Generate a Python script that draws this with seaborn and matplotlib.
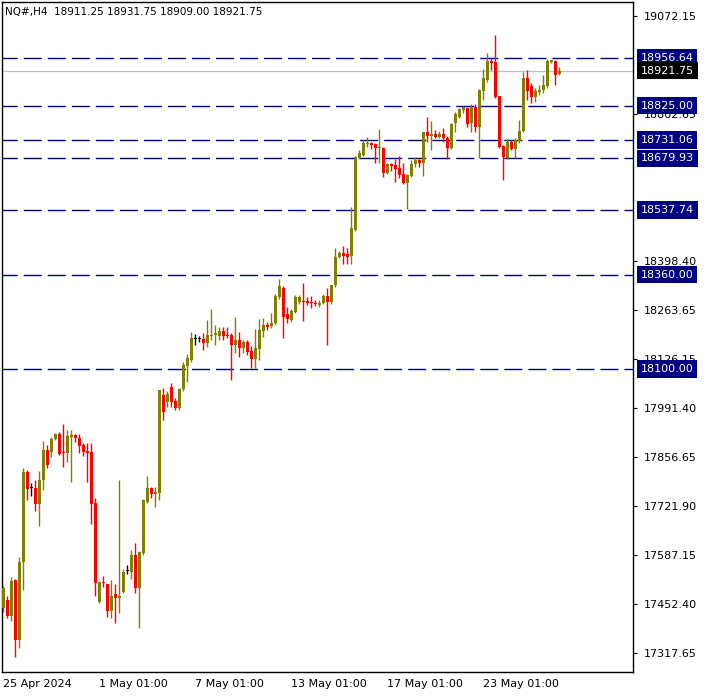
import numpy as np
import matplotlib
matplotlib.use("Agg")
import matplotlib.pyplot as plt
import matplotlib.transforms as mtransforms
import seaborn as sns

### data (NQ#, H4 candles) ###
opens = [17441.6, 17463.6, 17419.6, 17518.7, 17353.5, 17568.3, 17816.2, 17772.1, 17772.1, 17728.1,
         17794.1, 17876.8, 17871.3, 17907.1, 17920.9, 17871.3, 17868.5, 17912.6, 17918.1, 17909.8,
         17890.6, 17874.0, 17871.3, 17730.8, 17458.1, 17513.2, 17507.7, 17433.4, 17480.2, 17469.1,
         17485.7, 17543.5, 17540.8, 17587.6, 17496.7, 17593.0, 17733.6, 17772.1, 17755.6, 17758.4,
         18028.3, 18009.0, 18050.3, 18011.7, 17992.4, 18044.8, 18108.1, 18124.7, 18182.5, 18182.5,
         18182.5, 18171.5, 18190.8, 18193.5, 18190.8, 18204.6, 18193.5, 18193.5, 18166.0, 18179.7,
         18157.7, 18174.2, 18149.4, 18127.4, 18154.9, 18204.6, 18221.1, 18218.3, 18226.6, 18298.2,
         18323.0, 18251.4, 18234.8, 18256.9, 18284.4, 18287.2, 18287.2, 18284.4, 18281.7, 18276.2,
         18281.7, 18300.9, 18284.4, 18331.2, 18408.3, 18419.3, 18416.6, 18411.1, 18482.7, 18681.0,
         18689.3, 18719.6, 18722.3, 18719.6, 18708.6, 18708.6, 18639.7, 18664.5, 18661.8, 18653.5,
         18637.0, 18612.2, 18631.5, 18664.5, 18675.5, 18667.3, 18752.6, 18741.5, 18747.1, 18738.8,
         18747.1, 18736.0, 18708.6, 18777.4, 18793.9, 18813.2, 18818.7, 18777.4, 18821.5, 18766.4,
         18865.6, 18895.9, 18948.2, 18945.5, 18851.8, 18714.1, 18681.0, 18725.1, 18705.8, 18727.9,
         18755.4, 18901.4, 18879.3, 18849.1, 18862.8, 18868.3, 18879.3, 18945.5, 18948.2, 18911.25]
highs = [17502.2, 17474.6, 17527.0, 17521.5, 17582.1, 17827.2, 17821.7, 17785.8, 17794.1, 17819.0,
         17901.5, 17890.6, 17912.6, 17923.6, 17926.4, 17948.4, 17931.9, 17931.9, 17920.9, 17920.9,
         17896.1, 17896.1, 17896.1, 17744.6, 17516.0, 17529.7, 17509.0, 17518.7, 17507.7, 17794.1,
         17549.0, 17560.1, 17601.3, 17620.6, 17598.0, 17741.0, 17805.1, 17774.8, 17774.8, 18043.0,
         18047.5, 18039.3, 18061.3, 18020.0, 18047.5, 18119.1, 18141.2, 18201.8, 18196.3, 18190.8,
         18199.1, 18234.8, 18265.1, 18221.1, 18215.6, 18215.6, 18215.6, 18199.1, 18243.1, 18201.8,
         18179.7, 18179.7, 18163.2, 18210.0, 18237.6, 18240.3, 18229.3, 18254.1, 18306.4, 18347.7,
         18328.5, 18270.6, 18265.1, 18303.7, 18303.7, 18336.7, 18298.2, 18300.9, 18289.9, 18289.9,
         18306.4, 18323.0, 18332.0, 18433.1, 18424.9, 18438.6, 18433.1, 18546.1, 18686.5, 18703.1,
         18730.6, 18738.9, 18725.1, 18722.3, 18760.9, 18711.3, 18667.3, 18667.3, 18678.3, 18686.5,
         18667.3, 18636.0, 18675.5, 18683.8, 18678.3, 18754.0, 18793.9, 18782.9, 18758.1, 18755.4,
         18763.6, 18741.5, 18777.4, 18807.7, 18818.7, 18824.2, 18821.5, 18829.8, 18829.8, 18870.0,
         18926.2, 18970.2, 18956.5, 19019.8, 18853.0, 18716.8, 18733.4, 18730.6, 18736.1, 18785.7,
         18917.9, 18923.4, 18887.6, 18873.8, 18882.1, 18909.6, 18953.7, 18950.9, 18950.9, 18931.75]
lows = [17430.6, 17414.0, 17405.8, 17306.6, 17331.4, 17491.2, 17739.1, 17750.1, 17708.8, 17667.4,
        17766.6, 17827.2, 17857.5, 17904.3, 17863.0, 17829.9, 17843.7, 17788.6, 17898.8, 17868.5,
        17860.3, 17788.6, 17672.9, 17474.6, 17455.4, 17499.4, 17416.8, 17414.0, 17400.3, 17427.8,
        17484.0, 17535.3, 17521.5, 17482.9, 17386.5, 17587.6, 17732.0, 17744.6, 17719.8, 17739.1,
        17959.4, 17995.2, 17995.2, 17986.9, 17986.9, 18039.3, 18064.1, 18119.1, 18166.0, 18174.2,
        18152.2, 18160.5, 18179.7, 18166.0, 18179.7, 18179.7, 18185.2, 18069.6, 18143.9, 18132.9,
        18143.9, 18138.4, 18102.6, 18102.6, 18124.7, 18188.0, 18207.3, 18212.8, 18221.1, 18292.7,
        18185.2, 18226.6, 18229.3, 18254.1, 18278.9, 18232.1, 18276.2, 18267.9, 18273.4, 18270.6,
        18278.9, 18166.0, 18278.9, 18325.7, 18405.6, 18389.1, 18389.1, 18389.1, 18480.0, 18678.3,
        18686.5, 18711.3, 18705.8, 18667.3, 18667.3, 18628.7, 18637.0, 18645.2, 18614.9, 18625.9,
        18609.4, 18540.6, 18628.7, 18656.3, 18656.3, 18631.5, 18725.1, 18703.1, 18736.0, 18736.0,
        18725.1, 18678.3, 18705.8, 18752.6, 18791.2, 18804.9, 18766.4, 18752.6, 18752.6, 18681.0,
        18840.8, 18890.4, 18923.4, 18846.3, 18708.6, 18620.4, 18678.3, 18703.1, 18681.0, 18722.3,
        18752.6, 18840.8, 18832.5, 18835.3, 18854.6, 18860.1, 18873.8, 18944.0, 18882.1, 18909.00]
closes = [17496.7, 17419.6, 17516.0, 17353.5, 17568.3, 17816.2, 17769.4, 17772.1, 17728.1, 17794.1,
          17876.8, 17835.4, 17907.1, 17920.9, 17865.8, 17868.5, 17915.3, 17918.1, 17909.8, 17887.8,
          17871.3, 17868.5, 17728.1, 17510.5, 17513.2, 17510.5, 17433.4, 17474.6, 17469.1, 17474.6,
          17540.8, 17543.5, 17587.6, 17496.7, 17595.8, 17739.1, 17772.1, 17755.6, 17761.1, 18042.0,
          17981.4, 18031.0, 18009.0, 17992.4, 18044.8, 18110.9, 18130.1, 18185.2, 18182.5, 18182.5,
          18171.5, 18193.5, 18193.5, 18199.1, 18204.6, 18190.8, 18190.8, 18166.0, 18179.7, 18157.7,
          18174.2, 18146.7, 18127.4, 18157.7, 18207.3, 18221.1, 18215.6, 18226.6, 18300.9, 18328.5,
          18243.1, 18237.6, 18259.6, 18298.2, 18298.2, 18284.4, 18281.7, 18281.7, 18278.9, 18281.7,
          18300.9, 18284.4, 18331.2, 18408.3, 18419.3, 18411.1, 18408.3, 18488.2, 18683.8, 18694.8,
          18722.3, 18722.3, 18716.8, 18708.6, 18711.3, 18639.7, 18664.5, 18659.0, 18650.7, 18634.2,
          18612.2, 18634.2, 18664.5, 18675.5, 18667.3, 18752.6, 18741.5, 18747.1, 18738.8, 18747.1,
          18736.0, 18708.6, 18774.6, 18802.2, 18816.0, 18821.5, 18774.6, 18821.5, 18766.4, 18868.3,
          18901.4, 18948.2, 18942.7, 18849.1, 18711.3, 18683.8, 18725.1, 18705.8, 18730.6, 18755.4,
          18901.4, 18865.6, 18849.1, 18865.6, 18868.3, 18882.1, 18948.2, 18950.9, 18911.0, 18921.75]

levels = [18956.64, 18825.00, 18731.06, 18679.93, 18537.74, 18360.00, 18100.00]
bid_price = 18921.75
# scale labels that are visible (the others sit under the level boxes)
price_ticks = [17317.65, 17452.40, 17587.15, 17721.90, 17856.65, 17991.40, 18126.15,
               18263.65, 18398.40, 18802.65, 19072.15]
date_pos = [0, 24, 48, 72, 96, 120]
date_labels = ["25 Apr 2024", "1 May 01:00", "7 May 01:00", "13 May 01:00",
               "17 May 01:00", "23 May 01:00"]

### style ###
sns.set_style("white")
plt.rcParams["font.family"] = ["DejaVu Sans"]
plt.rcParams["lines.scale_dashes"] = False

o = np.array(opens); h = np.array(highs); l = np.array(lows); c = np.array(closes)
idx = np.arange(len(o))
cols = np.where(c > o, "#808000", np.where(c < o, "#FF0000", "#000000"))

fig = plt.figure(figsize=(7.05, 6.96), dpi=100)
ax = fig.add_axes([2/705, 24/696, 631/705, 670/696])

# support / resistance levels + bid line
for lv in levels:
    ax.axhline(lv, color="#000080", lw=1.0, ls=(2, (13, 4.3)), zorder=1)
ax.axhline(bid_price, color="#C0C0C0", lw=0.9, zorder=1)

# candles
ax.vlines(idx, l, h, colors=cols, lw=1.0, zorder=2)
body_lo = np.minimum(o, c)
body_h = np.maximum(np.abs(c - o), 2.2)
ax.bar(idx, body_h, bottom=body_lo, width=0.74, color=cols, linewidth=0, zorder=3)

ax.set_xlim(-0.3, 157.45)
ax.set_ylim(17265.3, 19110.7)

for s in ax.spines.values():
    s.set_color("black"); s.set_linewidth(1.0)

ax.yaxis.tick_right()
ax.set_yticks(price_ticks)
ax.set_yticklabels(["%.2f" % t for t in price_ticks])
ax.set_xticks(date_pos)
ax.set_xticklabels(date_labels, ha="left")
ax.tick_params(axis="y", length=3, width=0.8, pad=5, labelsize=8, colors="black")
ax.tick_params(axis="x", length=3, width=0.8, pad=2, labelsize=8, colors="black")

# boxed price labels on the right scale
tr = mtransforms.blended_transform_factory(ax.transAxes, ax.transData)
box_labels = [(lv, "#000080") for lv in levels] + [(bid_price, "#000000")]
for lv, fc in box_labels:
    ax.annotate("%.2f" % lv, xy=(1, lv), xycoords=tr, xytext=(5.6, 0), textcoords="offset points",
                ha="left", va="center", fontsize=8, color="white", annotation_clip=False, zorder=10,
                bbox=dict(boxstyle="square,pad=0.33", fc=fc, ec="none"))

fig.text(5/705, 1 - 12/696, "NQ#,H4  %.2f %.2f %.2f %.2f" % (opens[-1], highs[-1], lows[-1], closes[-1]),
         fontsize=7.5, color="black", va="center", ha="left")

fig.savefig("out.png", dpi=100, facecolor="white")
